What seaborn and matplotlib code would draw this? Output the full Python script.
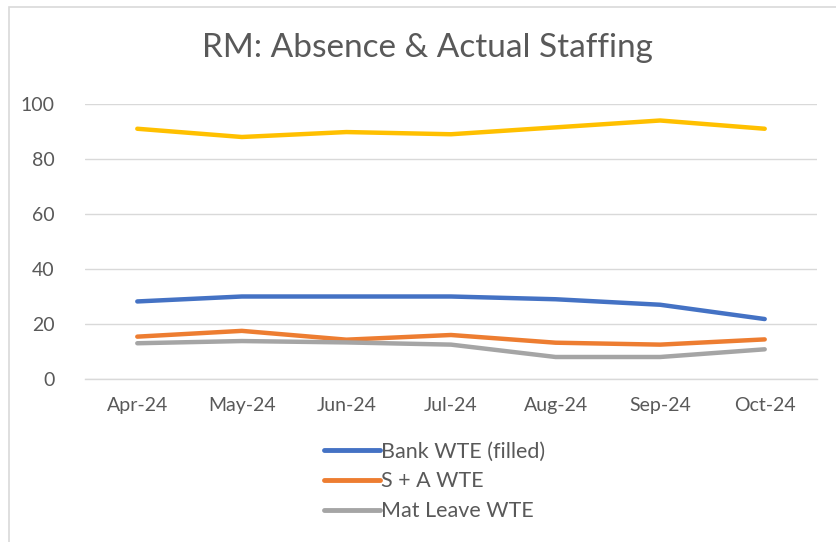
import matplotlib
matplotlib.use("Agg")
import matplotlib.pyplot as plt
import seaborn as sns
import pandas as pd
from matplotlib.lines import Line2D
from matplotlib.patches import Rectangle

months = ["Apr-24", "May-24", "Jun-24", "Jul-24", "Aug-24", "Sep-24", "Oct-24"]
actual_staffing = [91, 88, 89.8, 89, 91.5, 94, 91]
bank_wte = [28.2, 30, 30, 30, 29, 27, 21.8]
sa_wte = [15.4, 17.5, 14.3, 16, 13.2, 12.5, 14.4]
mat_leave_wte = [13, 13.8, 13.3, 12.5, 8, 8, 10.8]

series_names = ["Actual Staffing WTE", "Bank WTE (filled)", "S + A WTE", "Mat Leave WTE"]
series_values = [actual_staffing, bank_wte, sa_wte, mat_leave_wte]
colors = ["#FFC000", "#4472C4", "#ED7D31", "#A5A5A5"]
legend_names = ["Bank WTE (filled)", "S + A WTE", "Mat Leave WTE"]

rows = []
for name, vals in zip(series_names, series_values):
    for i, (m, v) in enumerate(zip(months, vals)):
        rows.append({"month": m, "idx": i, "series": name, "value": v})
df = pd.DataFrame(rows)

sns.set_theme(style="white")
plt.rcParams["font.family"] = ["Lato", "DejaVu Sans"]
txt = "#595959"

fig = plt.figure(figsize=(8.36, 5.42), dpi=100)
ax = fig.add_axes([85 / 836, (542 - 379) / 542, (817 - 85) / 836, (379 - 104) / 542])

sns.lineplot(data=df, x="idx", y="value", hue="series", hue_order=series_names,
             palette=colors, linewidth=3.2, ax=ax, legend=False,
             solid_capstyle="round", solid_joinstyle="round")

ax.set_xlim(-0.5, len(months) - 0.5)
ax.set_ylim(0, 100)
ax.set_yticks(range(0, 101, 20))
ax.set_xticks(range(len(months)))
ax.set_xticklabels(months)
ax.set_xticks([i - 0.5 for i in range(len(months) + 1)], minor=True)
ax.tick_params(axis="x", which="major", length=0, pad=13, labelsize=14, labelcolor=txt)
ax.tick_params(axis="x", which="minor", length=6, width=1, color="#d9d9d9", direction="out")
ax.tick_params(axis="y", length=0, pad=22, labelsize=14, labelcolor=txt)
ax.grid(axis="y", color="#d9d9d9", linewidth=1)
ax.set_axisbelow(True)
for s in ["top", "right", "left"]:
    ax.spines[s].set_visible(False)
ax.spines["bottom"].set_color("#d9d9d9")
ax.spines["bottom"].set_linewidth(1)
ax.set_xlabel("")
ax.set_ylabel("")

fig.text(427 / 836, 1 - 48 / 542, "RM: Absence & Actual Staffing", ha="center", va="center",
         fontsize=24, color=txt)

handles = [Line2D([0], [0], color=c, linewidth=3.5, solid_capstyle="round") for c in colors[1:]]
fig.legend(handles, legend_names, loc="upper left", bbox_to_anchor=(313 / 836, 1 - 431 / 542),
           frameon=False, fontsize=15.5, labelcolor=txt, handlelength=2.6, handletextpad=0.08,
           labelspacing=0.45, borderpad=0)

# chart border (top and left edges visible)
fig.patches.append(Rectangle((9 / 836, -0.1), 1.2, 1 - 7 / 542 + 0.1, transform=fig.transFigure,
                             fill=False, edgecolor="#d9d9d9", linewidth=1.2))

fig.savefig("out.png", dpi=100)
